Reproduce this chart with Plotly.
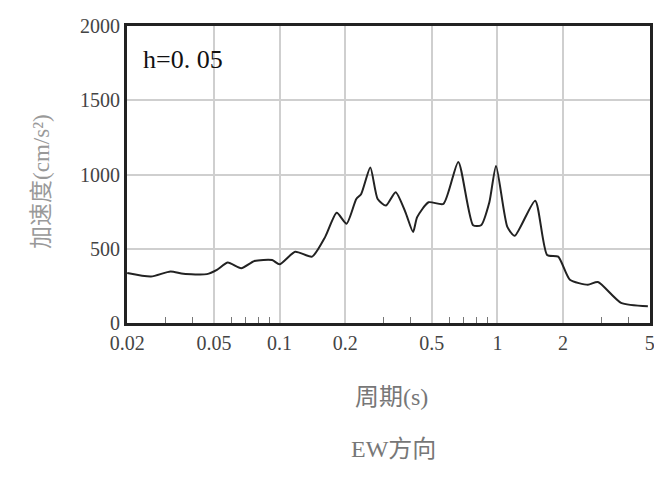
import math
import plotly.graph_objects as go

# response spectrum, h=0.05, EW
period = [0.02, 0.0257, 0.0316, 0.0362, 0.0464, 0.0516, 0.0579, 0.0667, 0.0767,
          0.0925, 0.1, 0.118, 0.141, 0.162, 0.183, 0.203, 0.225, 0.237, 0.261,
          0.282, 0.308, 0.341, 0.378, 0.41, 0.428, 0.483, 0.565, 0.661, 0.773,
          0.841, 0.918, 0.985, 1.11, 1.2, 1.49, 1.69, 1.9, 2.15, 2.6, 2.89,
          3.69, 4.9]
accel = [337, 313, 347, 331, 329, 358, 407, 369, 418,
         424, 395, 480, 447, 580, 742, 669, 835, 869, 1047,
         835, 791, 880, 747, 613, 713, 813, 802, 1085, 658,
         658, 813, 1058, 647, 587, 824, 458, 447, 291, 258, 276,
         136, 113]

xticks = [0.02, 0.05, 0.1, 0.2, 0.5, 1, 2, 5]
xlabels = ["0.02", "0.05", "0.1", "0.2", "0.5", "1", "2", "5"]
xminor = [0.03, 0.04, 0.06, 0.07, 0.08, 0.09, 0.3, 0.4, 0.6, 0.7, 0.8, 0.9, 3, 4]
yticks = [0, 500, 1000, 1500, 2000]

serif = "Liberation Serif, Noto Sans CJK SC"

# page has an 8px body margin, so the figure is sized/placed for that
W, H = 654, 473
L, R, T, B = 119, 7, 15, 158
ph = H - T - B

def row(y_page):
    # page pixel row -> paper y
    return (H - B - (y_page - 8)) / ph

fig = go.Figure()
fig.add_trace(go.Scatter(x=period, y=accel, mode="lines",
                         line=dict(color="#222", width=2, shape="spline", smoothing=0.6),
                         showlegend=False))

fig.update_xaxes(type="log", range=[math.log10(0.02) - 0.001, math.log10(5) + 0.001],
                 tickvals=xticks, ticktext=xlabels,
                 showgrid=True, gridcolor="#cfcfcf", gridwidth=1.5,
                 showline=True, linecolor="#222", linewidth=3, mirror=True,
                 ticks="", tickfont=dict(family=serif, size=20, color="#444"),
                 minor=dict(tickvals=xminor, ticks="inside", ticklen=6,
                            tickcolor="#777", showgrid=False),
                 zeroline=False)
fig.update_yaxes(range=[0, 2000], tickvals=yticks,
                 showgrid=True, gridcolor="#cfcfcf", gridwidth=1.5,
                 showline=True, linecolor="#222", linewidth=3, mirror=True,
                 ticks="", tickfont=dict(family=serif, size=20, color="#444"),
                 zeroline=False)

fig.add_annotation(x=0.0, y=1.0, xref="paper", yref="paper", xanchor="left", yanchor="top",
                   xshift=14, yshift=-17, text="h=0. 05", showarrow=False,
                   font=dict(family=serif, size=26, color="#111"))
fig.add_annotation(x=0.0, y=row(180), xref="paper", yref="paper", xshift=-100,
                   text="加速度(cm/s²)", textangle=-90, showarrow=False,
                   font=dict(family=serif, size=23, color="#999"))
fig.add_annotation(x=0.5, y=row(413), xref="paper", yref="paper", xshift=3,
                   text="周期(s)", showarrow=False,
                   font=dict(family=serif, size=24, color="#777"))
fig.add_annotation(x=0.5, y=row(465), xref="paper", yref="paper", xshift=5,
                   text="EW方向", showarrow=False,
                   font=dict(family=serif, size=24, color="#777"))

fig.update_layout(width=W, height=H, plot_bgcolor="white", paper_bgcolor="white",
                  margin=dict(l=L, r=R, t=T, b=B))

fig.write_html("out.html")
